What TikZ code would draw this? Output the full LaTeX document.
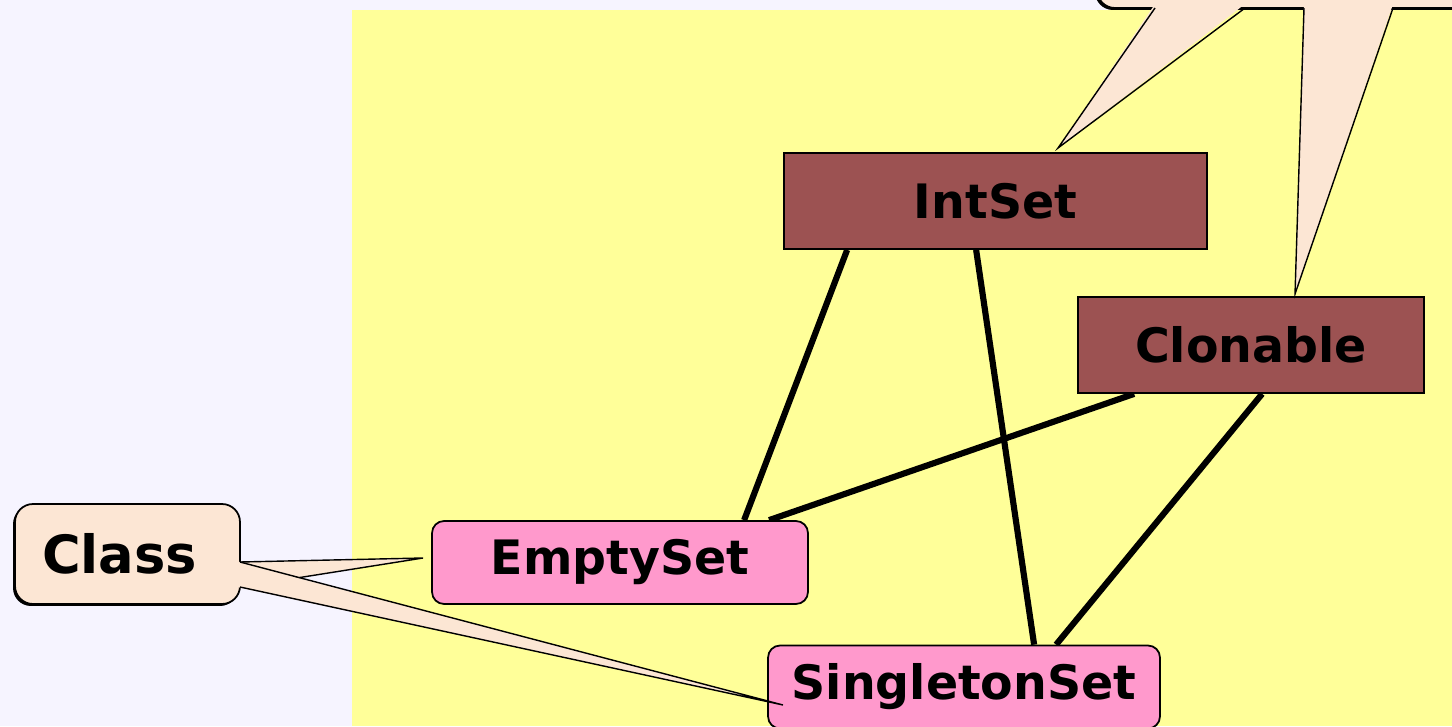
\documentclass[tikz,border=0pt]{standalone}
\usepackage{fontspec}
\setmainfont{DejaVu Sans}
\usetikzlibrary{calc, shadows, backgrounds}

\definecolor{lavbg}{HTML}{F6F4FF}
\definecolor{yellowbg}{HTML}{FFFF99}
\definecolor{ifacebrown}{HTML}{9C5252}
\definecolor{implpink}{HTML}{FF99CC}
\definecolor{notebeige}{HTML}{FCE6D4}

\begin{document}
\begin{tikzpicture}[x=0.02cm, y=-0.02cm,
    font=\bfseries\fontsize{27}{32}\selectfont,
    iface/.style={draw, line width=1pt, fill=ifacebrown, minimum height=1.92cm, inner sep=0pt},
    impl/.style={draw, line width=1pt, fill=implpink, rounded corners=0.24cm, minimum height=1.66cm, inner sep=0pt},
    link/.style={line width=3.5pt},
    note/.style={draw, line width=1pt, fill=notebeige, rounded corners=0.36cm,
      drop shadow={shadow xshift=-0.04cm, shadow yshift=-0.04cm, fill=black, opacity=1}},
    tail/.style={fill=notebeige},
    tailedge/.style={line width=0.8pt}]
      \useasboundingbox (0,0) rectangle (1452,726);
      \clip (0,0) rectangle (1452,726);

      % Інтерфейси
      \node[iface, minimum width=8.46cm] (intset) at (995.5,201) {IntSet};
      \node[iface, minimum width=6.92cm] (clonable) at (1251,345) {Clonable};

      % Класи
      \node[impl, minimum width=7.52cm] (empty) at (620,562.5) {EmptySet};
      \node[impl, minimum width=7.84cm] (single) at (964,687) {SingletonSet};

      % Фон і зв'язки під вузлами
      \begin{scope}[on background layer]
      \fill[lavbg] (0,0) rectangle (1452,726);
      \fill[yellowbg] (352,10) rectangle (1452,726);
      \draw[link] ([xshift=1.28cm]intset.south west) -- ([xshift=6.26cm]empty.north west);
      \draw[link] ([xshift=3.86cm]intset.south west) -- ([xshift=5.34cm]single.north west);
      \draw[link] ([xshift=1.14cm]clonable.south west) -- ([xshift=6.76cm]empty.north west);
      \draw[link] ([xshift=3.7cm]clonable.south west) -- ([xshift=5.78cm]single.north west);
      \end{scope}

      % Виноска зверху
      \draw[note] (1097,8) rectangle (1560,-120);
      \coordinate (tipI) at (1058,148);
      \coordinate (tipC) at (1295,294);
      \fill[tail] (1155,4) -- (tipI) -- (1245,4) -- cycle;
      \draw[tailedge] (1155,8) -- (tipI) -- (1245,8);
      \fill[tail] (1304,4) -- (tipC) -- (1393,4) -- cycle;
      \draw[tailedge] (1304,8) -- (tipC) -- (1393,8);

      % Виноска Class
      \node[note, minimum width=4.5cm, minimum height=2cm, text width=3.42cm, align=left,
        font=\bfseries\fontsize{30}{34}\selectfont] (cls) at (127.5,554) {Class};
      \coordinate (tipE) at (423,558);
      \coordinate (tipS) at (783,705);
      \fill[tail] (237,562) -- (tipE) -- (237,587) -- cycle;
      \draw[tailedge] (240,562) -- (tipE) -- (240,587);
      \fill[tail] (237,562) -- (tipS) -- (237,587) -- cycle;
      \draw[tailedge] (240,562) -- (tipS) -- (240,587);
\end{tikzpicture}
\end{document}
